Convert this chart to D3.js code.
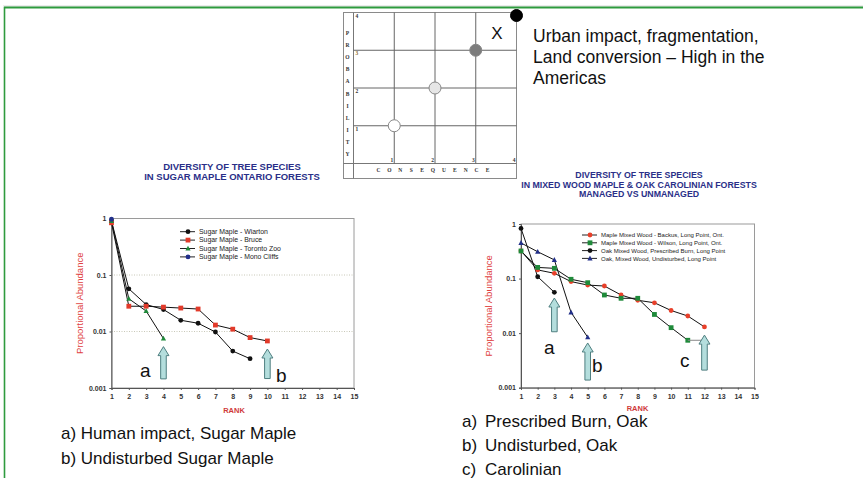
<!DOCTYPE html>
<html><head><meta charset="utf-8">
<script src="https://cdn.jsdelivr.net/npm/d3@7"></script>
<style>
html,body{margin:0;padding:0;background:#fff;}
svg{display:block;font-family:"Liberation Sans",Arial,sans-serif;}
</style></head>
<body>
<svg id="c" width="863" height="478"></svg>
<script>
// ---------------- DATA ----------------
const ranks = d3.range(1, 16);
const yTickValues = [1, 0.1, 0.01, 0.001];
const yTickLabels = ["1", "0.1", "0.01", "0.001"];

// Left chart: Sugar Maple Ontario forests
const leftNames = ["Sugar Maple -  Wiarton", "Sugar Maple - Bruce", "Sugar Maple -  Toronto Zoo", "Sugar Maple -  Mono Cliffs"];
const wiarton    = [0.9, 0.057, 0.030, 0.0245, 0.0158, 0.014, 0.0098, 0.0045, 0.0033];
const bruce      = [0.84, 0.028, 0.028, 0.027, 0.026, 0.025, 0.013, 0.011, 0.0078, 0.0068];
const torontoZoo = [0.9, 0.038, 0.023, 0.0075];
const monoCliffs = [0.97];

// Right chart: Mixed wood maple & oak Carolinian forests
const rightNames = ["Maple Mixed Wood - Backus, Long Point, Ont.", "Maple Mixed Wood - Wilson, Long Point, Ont.", "Oak Mixed Wood, Prescribed Burn, Long Point", "Oak, Mixed Wood, Undisturbed, Long Point"];
const backus      = [0.32, 0.144, 0.125, 0.088, 0.076, 0.073, 0.05, 0.040, 0.036, 0.026, 0.0206, 0.013];
const wilson      = [0.32, 0.16, 0.154, 0.097, 0.084, 0.05, 0.0435, 0.0435, 0.022, 0.0126, 0.0074];
const oakBurn     = [0.83, 0.108, 0.056];
const oakUndist   = [0.45, 0.31, 0.22, 0.024, 0.0084];

// Arrows: [rank, tip value, base value, label]
const leftArrows  = [[4, 0.0054, 0.00145, "a"], [10, 0.0049, 0.00147, "b"]];
const rightArrows = [[3, 0.044, 0.0106, "a"], [5, 0.0066, 0.00138, "b"], [12, 0.0092, 0.0021, "c"]];

// Risk matrix
const matrixTicks = [1, 2, 3, 4];
const matrixPoints = [[1, 1, "#ffffff"], [2, 2, "#e6e6e6"], [3, 3, "#7c7c7c"], [4, 3.92, "#000000"]];

const topNote = ["Urban impact, fragmentation,", "Land conversion \u2013 High in the", "Americas"];
const leftNotes = ["a) Human impact, Sugar Maple", "b) Undisturbed Sugar Maple"];
const rightNotes = [["a)", "Prescribed Burn, Oak"], ["b)", "Undisturbed, Oak"], ["c)", "Carolinian"]];

// ---------------- DRAW ----------------
const svg = d3.select("#c");

// slide frame
svg.append("line").attr("x1", 3).attr("x2", 863).attr("y1", 6).attr("y2", 6).attr("stroke", "#d8d8d8").attr("stroke-width", 1);
svg.append("line").attr("x1", 4).attr("x2", 863).attr("y1", 7.5).attr("y2", 7.5).attr("stroke", "#2e9b3e").attr("stroke-width", 2);
svg.append("line").attr("x1", 4.5).attr("x2", 4.5).attr("y1", 7).attr("y2", 478).attr("stroke", "#2e9b3e").attr("stroke-width", 1.6);

// ---- risk matrix ----
(function(){
  const cx = d3.scaleLinear().domain([0, 4]).range([353.5, 516.5]);
  const py = d3.scaleLinear().domain([0, 4]).range([163.5, 12.5]);
  const g = svg.append("g");
  g.append("rect").attr("x", 343.5).attr("y", 12.5).attr("width", 173).attr("height", 166)
    .attr("fill", "#fff").attr("stroke", "#8a8a8a").attr("stroke-width", 1);
  g.append("line").attr("x1", cx(0)).attr("x2", cx(0)).attr("y1", 12.5).attr("y2", 178.5).attr("stroke", "#777");
  g.append("line").attr("x1", 343.5).attr("x2", 516.5).attr("y1", py(0)).attr("y2", py(0)).attr("stroke", "#777");
  matrixTicks.slice(0, 3).forEach(t => {
    g.append("line").attr("x1", cx(t)).attr("x2", cx(t)).attr("y1", py(4)).attr("y2", py(0)).attr("stroke", "#666");
    g.append("line").attr("x1", cx(0)).attr("x2", cx(4)).attr("y1", py(t)).attr("y2", py(t)).attr("stroke", "#666");
  });
  matrixTicks.forEach(t => {
    g.append("text").attr("x", cx(t) - 2.5).attr("y", py(0) - 2).attr("text-anchor", "middle")
      .attr("font-family", "Liberation Serif, serif").attr("font-weight", "bold").attr("font-size", 5.5).attr("fill", "#333").text(t);
    g.append("text").attr("x", cx(0) + 2).attr("y", py(t) + 5).attr("font-family", "Liberation Serif, serif")
      .attr("font-weight", "bold").attr("font-size", 5.5).attr("fill", t === 3 ? "#8a6a2a" : "#333").text(t);
  });
  "PROBABILITY".split("").forEach((ch, i) => {
    g.append("text").attr("x", 347.5).attr("y", 35 + i * 12.1).attr("text-anchor", "middle")
      .attr("font-family", "Liberation Serif, serif").attr("font-weight", "bold").attr("font-size", 5.5).attr("fill", "#333").text(ch);
  });
  "CONSEQUENCE".split("").forEach((ch, i) => {
    g.append("text").attr("x", 378.5 + i * 10.9).attr("y", 172).attr("text-anchor", "middle")
      .attr("font-family", "Liberation Serif, serif").attr("font-weight", "bold").attr("font-size", 5.5).attr("fill", "#333").text(ch);
  });
  g.selectAll("circle.mp").data(matrixPoints).join("circle").attr("class", "mp")
    .attr("cx", d => cx(d[0])).attr("cy", d => py(d[1])).attr("r", 6)
    .attr("fill", d => d[2]).attr("stroke", d => d[0] === 4 ? "#000" : "#888").attr("stroke-width", 1);
  g.append("text").attr("x", 497).attr("y", 39).attr("text-anchor", "middle").attr("font-size", 17).attr("fill", "#111").text("X");
})();

// top note
svg.append("g").selectAll("text").data(topNote).join("text")
  .attr("x", 533).attr("y", (d, i) => 42 + i * 21).attr("font-size", 17.5).attr("fill", "#111").text(d => d);

// ---- chart builder ----
function buildChart(cfg) {
  const g = svg.append("g");
  const x = d3.scaleLinear().domain([1, 15]).range([cfg.x0, cfg.x1]);
  const y = d3.scaleLog().domain([0.001, 1]).range([cfg.y0, cfg.y1]);

  if (cfg.grid) {
    [0.1, 0.01].forEach(v => {
      g.append("line").attr("x1", x(1)).attr("x2", x(15)).attr("y1", y(v)).attr("y2", y(v))
        .attr("stroke", "#c8c8b8").attr("stroke-width", 1).attr("stroke-dasharray", "1,1.5");
    });
  }
  g.append("rect").attr("x", x(1)).attr("y", y(1)).attr("width", x(15) - x(1)).attr("height", y(0.001) - y(1))
    .attr("fill", "none").attr("stroke", "#9a9a9a").attr("stroke-width", 1);

  const xAxis = d3.axisBottom(x).tickValues(ranks).tickSize(2).tickFormat(d3.format("d"));
  const ax = g.append("g").attr("transform", `translate(0,${y(0.001)})`).call(xAxis);
  ax.select(".domain").attr("stroke", "#555");
  ax.selectAll("line").attr("stroke", "#555");
  ax.selectAll("text").attr("font-size", 7).attr("font-weight", "bold").attr("fill", "#333").attr("dy", "0.9em")
    .attr("font-family", "Liberation Sans, Arial, sans-serif");

  const yAxis = d3.axisLeft(y).tickValues(yTickValues).tickSize(2).tickFormat((d, i) => yTickLabels[i]);
  const ay = g.append("g").attr("transform", `translate(${x(1)},0)`).call(yAxis);
  ay.select(".domain").attr("stroke", "#555");
  ay.selectAll("line").attr("stroke", "#555");
  ay.selectAll("text").attr("font-size", 7).attr("font-weight", "bold").attr("fill", "#333")
    .attr("font-family", "Liberation Sans, Arial, sans-serif");

  g.append("text").attr("transform", `translate(${cfg.ylabX},${(y(1) + y(0.001)) / 2}) rotate(-90)`)
    .attr("text-anchor", "middle").attr("font-size", 9.5).attr("fill", "#e04040").text("Proportional Abundance");
  g.append("text").attr("x", cfg.rankX).attr("y", cfg.rankY).attr("text-anchor", "middle")
    .attr("font-size", 7.5).attr("font-weight", "bold").attr("fill", "#d03a3a").text("RANK");

  g.selectAll("text.title").data(cfg.title).join("text").attr("class", "title")
    .attr("x", cfg.titleX).attr("y", (d, i) => cfg.titleY + i * 9.5).attr("text-anchor", "middle")
    .attr("font-size", cfg.titleSize).attr("font-weight", "bold").attr("fill", "#2a2f88").text(d => d);

  const line = d3.line().x((d, i) => x(i + 1)).y(d => y(d));
  cfg.series.forEach(s => {
    g.append("path").attr("d", line(s.values)).attr("fill", "none").attr("stroke", "#111").attr("stroke-width", 1);
  });
  function marker(sel, s, px, py) {
    if (s.shape === "circle") sel.append("circle").attr("cx", px).attr("cy", py).attr("r", 2.4).attr("fill", s.color);
    else if (s.shape === "square") sel.append("rect").attr("x", px - 2.4).attr("y", py - 2.4).attr("width", 4.8).attr("height", 4.8).attr("fill", s.color);
    else sel.append("path").attr("d", `M${px},${py - 2.8}L${px + 2.6},${py + 2}L${px - 2.6},${py + 2}Z`).attr("fill", s.color);
  }
  cfg.series.forEach(s => { s.values.forEach((v, i) => marker(g, s, x(i + 1), y(v))); });

  cfg.series.forEach((s, i) => {
    const ly = cfg.legY + i * cfg.legStep;
    g.append("line").attr("x1", cfg.legX).attr("x2", cfg.legX + 15).attr("y1", ly).attr("y2", ly).attr("stroke", "#222");
    marker(g, s, cfg.legX + 8, ly);
    g.append("text").attr("x", cfg.legX + 19).attr("y", ly + 2.2).attr("font-size", cfg.legSize).attr("fill", "#222").text(s.name);
  });

  if (cfg.connector) {
    const c = cfg.connector;
    g.append("line").attr("x1", x(c[0])).attr("x2", x(c[1])).attr("y1", y(c[2])).attr("y2", y(c[2]))
      .attr("stroke", "#888").attr("stroke-width", 1);
  }

  cfg.arrows.forEach(a => {
    const ax0 = x(a[0]), yt = y(a[1]), yb = y(a[2]);
    const sw = 2.8, hw = 5.5, hh = 9;
    const p = `M${ax0},${yt} L${ax0 + hw},${yt + hh} L${ax0 + sw},${yt + hh} L${ax0 + sw},${yb} L${ax0 - sw},${yb} L${ax0 - sw},${yt + hh} L${ax0 - hw},${yt + hh} Z`;
    g.append("path").attr("d", p).attr("fill", "#b4dedd").attr("stroke", "#4f7f80").attr("stroke-width", 1);
  });
  cfg.arrowLabels.forEach((l, i) => {
    g.append("text").attr("x", l[0]).attr("y", l[1]).attr("font-size", 19).attr("fill", "#111").text(cfg.arrows[i][3]);
  });
}

buildChart({
  x0: 111.5, x1: 354, y0: 388, y1: 218.5, grid: true,
  ylabX: 83, rankX: 234, rankY: 413,
  title: ["DIVERSITY OF TREE SPECIES", "IN SUGAR MAPLE ONTARIO FORESTS"], titleX: 232, titleY: 170, titleSize: 9.5,
  series: [
    { name: leftNames[0], values: wiarton, shape: "circle", color: "#111" },
    { name: leftNames[1], values: bruce, shape: "square", color: "#e23a2a" },
    { name: leftNames[2], values: torontoZoo, shape: "triangle", color: "#1f8a3a" },
    { name: leftNames[3], values: monoCliffs, shape: "circle", color: "#22308a" }
  ],
  legX: 180, legY: 231.7, legStep: 8.4, legSize: 6.9,
  arrows: leftArrows, arrowLabels: [[140, 377], [276, 382]]
});

buildChart({
  x0: 521, x1: 754.5, y0: 387.7, y1: 224, grid: false,
  ylabX: 492, rankX: 637.5, rankY: 411,
  title: ["DIVERSITY OF TREE SPECIES", "IN MIXED WOOD MAPLE & OAK CAROLINIAN FORESTS", "MANAGED VS UNMANAGED"], titleX: 639, titleY: 178, titleSize: 8.8,
  series: [
    { name: rightNames[0], values: backus, shape: "circle", color: "#e8402a" },
    { name: rightNames[1], values: wilson, shape: "square", color: "#1f8a3a" },
    { name: rightNames[2], values: oakBurn, shape: "circle", color: "#111" },
    { name: rightNames[3], values: oakUndist, shape: "triangle", color: "#22308a" }
  ],
  legX: 582, legY: 235, legStep: 7.8, legSize: 6.0,
  connector: [11, 12, 0.0074],
  arrows: rightArrows, arrowLabels: [[544, 354], [592, 372], [680, 367]]
});

svg.append("g").selectAll("text").data(leftNotes).join("text")
  .attr("x", 61).attr("y", (d, i) => 439 + i * 25).attr("font-size", 17).attr("fill", "#111").text(d => d);
const rn = svg.append("g");
rightNotes.forEach((d, i) => {
  rn.append("text").attr("x", 462).attr("y", 427 + i * 24).attr("font-size", 17).attr("fill", "#111").text(d[0]);
  rn.append("text").attr("x", 485).attr("y", 427 + i * 24).attr("font-size", 17).attr("fill", "#111").text(d[1]);
});
</script>
</body></html>
